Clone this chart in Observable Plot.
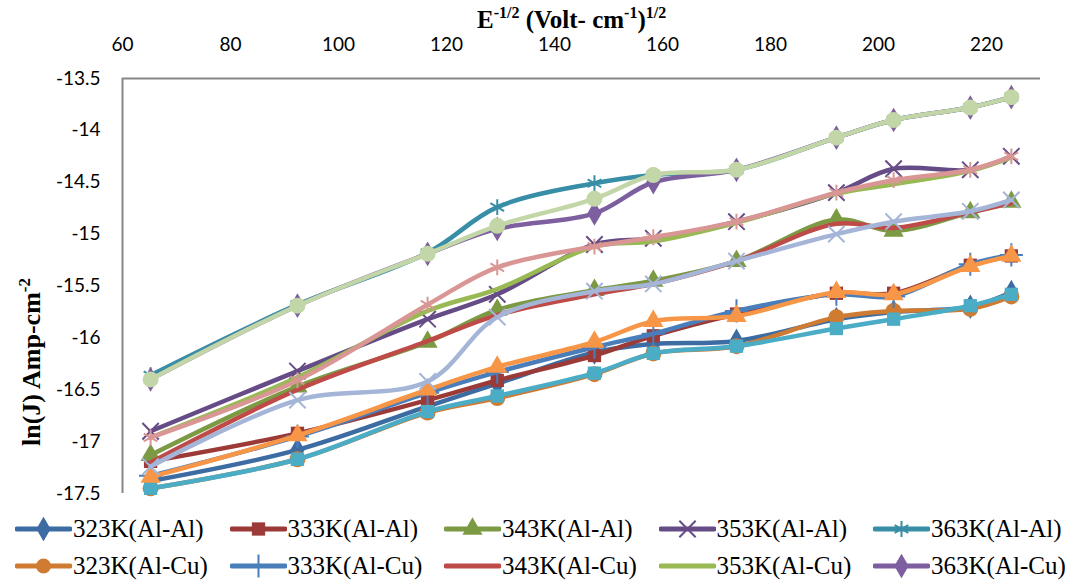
<!DOCTYPE html>
<html><head><meta charset="utf-8">
<script src="https://cdn.jsdelivr.net/npm/d3@7"></script>
<script src="https://cdn.jsdelivr.net/npm/@observablehq/plot@0.6"></script>
<style>
body{margin:0;background:#fff;}
#chart{position:relative;width:1076px;height:580px;overflow:hidden;}
.legend{display:grid;grid-template-columns:repeat(5,214.5px);grid-auto-rows:37px;margin-left:15px;margin-top:5px;color:#000;}
.item{display:flex;align-items:center;white-space:nowrap;line-height:1;}
.item svg{margin-right:1px;flex:none;}
.item span{font-family:'Liberation Serif','Times New Roman',serif;font-size:25px;line-height:1;}
</style></head><body><div id="chart"></div>
<script>
// x positions (E^-1/2)
const xValues = [65.2, 92.4, 116.5, 129.4, 147.4, 158.3, 173.7, 192.2, 202.8, 217.0, 224.6];
const xTicks = [60, 80, 100, 120, 140, 160, 180, 200, 220];
const yTicks = [-13.5, -14, -14.5, -15, -15.5, -16, -16.5, -17, -17.5];

const seriesNames = ["323K(Al-Al)","333K(Al-Al)","343K(Al-Al)","353K(Al-Al)","363K(Al-Al)",
  "323K(Al-Cu)","333K(Al-Cu)","343K(Al-Cu)","353K(Al-Cu)","363K(Al-Cu)",
  "Series11","Series12","Series13","Series14","Series15"];
const legendCount = 10;

const s1  = [-17.38, -17.08, -16.66, -16.44, -16.14, -16.06, -16.03, -15.82, -15.75, -15.70, -15.56];
const s2  = [-17.19, -16.92, -16.60, -16.41, -16.17, -15.98, -15.77, -15.57, -15.57, -15.30, -15.21];
const s3  = [-17.13, -16.47, -16.04, -15.73, -15.54, -15.45, -15.26, -14.86, -14.97, -14.79, -14.69];
const s4  = [-16.90, -16.32, -15.82, -15.58, -15.10, -15.04, -14.88, -14.60, -14.37, -14.38, -14.25];
const s5  = [-16.36, -15.68, -15.18, -14.74, -14.51, -14.43, -14.38, -14.07, -13.90, -13.78, -13.68];
const s6  = [-17.45, -17.17, -16.72, -16.58, -16.35, -16.15, -16.08, -15.80, -15.74, -15.72, -15.60];
const s7  = [-17.33, -16.95, -16.53, -16.33, -16.09, -15.96, -15.74, -15.58, -15.60, -15.29, -15.20];
const s8  = [-17.20, -16.50, -16.03, -15.78, -15.58, -15.48, -15.26, -14.90, -14.94, -14.79, -14.70];
const s9  = [-16.96, -16.38, -15.74, -15.53, -15.12, -15.07, -14.89, -14.61, -14.52, -14.39, -14.26];
const s10 = [-16.40, -15.69, -15.19, -14.95, -14.80, -14.50, -14.38, -14.07, -13.90, -13.78, -13.68];
const s11 = [-17.45, -17.17, -16.71, -16.56, -16.34, -16.15, -16.08, -15.91, -15.82, -15.69, -15.58];
const s12 = [-17.34, -16.94, -16.50, -16.28, -16.04, -15.84, -15.79, -15.56, -15.58, -15.31, -15.21];
const s13 = [-17.24, -16.60, -16.42, -15.80, -15.55, -15.48, -15.26, -15.00, -14.88, -14.78, -14.67];
const s14 = [-16.96, -16.41, -15.68, -15.32, -15.12, -15.03, -14.88, -14.60, -14.48, -14.38, -14.25];
const s15 = [-16.40, -15.69, -15.19, -14.92, -14.66, -14.43, -14.38, -14.07, -13.90, -13.78, -13.68];
const seriesValues = [s1,s2,s3,s4,s5,s6,s7,s8,s9,s10,s11,s12,s13,s14,s15];

const colors = ["#3D6CA3","#9C3A37","#7B9A43","#654C86","#378EA6",
  "#CF7B32","#4A7EBB","#BE4B48","#98B954","#7D5FA0",
  "#4BACC6","#F79646","#A5B5D8","#D99694","#C3D6A8"];
const symbols = ["diamond","square","triangle","times","asterisk",
  "circle","plus",null,null,"diamond",
  "square","triangle","times","asterisk","circle"];
const strokeSymbols = new Set(["times","asterisk","plus"]);

const marks = [
  Plot.ruleX([60], {stroke:"#868686", strokeWidth:2}),
  Plot.ruleY([-13.5], {stroke:"#868686", strokeWidth:2})
];
seriesValues.forEach((vals, i) => {
  const data = vals.map((v, j) => ({x: xValues[j], y: v}));
  marks.push(Plot.line(data, {x:"x", y:"y", stroke: colors[i], strokeWidth: 4.5, curve: "catmull-rom"}));
  const sym = symbols[i];
  if (sym) {
    if (strokeSymbols.has(sym)) {
      marks.push(Plot.dot(data, {x:"x", y:"y", symbol: sym, stroke: colors[i], strokeWidth: 2, r: 7.5}));
    } else {
      marks.push(Plot.dot(data, {x:"x", y:"y", symbol: sym, fill: colors[i], stroke: "none", r: sym === "circle" ? 8 : 7.5}));
    }
  }
});

const chart = Plot.plot({
  width: 1076, height: 505,
  marginTop: 78, marginBottom: 12, marginLeft: 122, marginRight: 36,
  x: {domain: [60, 230], axis: "top", ticks: xTicks, tickSize: 0, tickPadding: 28, label: null, tickFormat: d => String(d)},
  y: {domain: [-17.5, -13.5], ticks: yTicks, tickSize: 0, tickPadding: 22, label: null, tickFormat: d => String(d)},
  style: {fontFamily: "Lato, 'Open Sans', sans-serif", fontSize: "19px", color: "#000", background: "#fff"},
  marks
});
document.getElementById("chart").appendChild(chart);

const svg = d3.select(chart);
const serif = "'Liberation Serif','Times New Roman',serif";
const t = svg.append("text").attr("x", 477).attr("y", 28).attr("text-anchor", "start")
  .attr("font-family", serif).attr("font-weight", "bold").attr("font-size", 25).attr("fill", "#000");
t.append("tspan").text("E");
t.append("tspan").attr("font-size", 16).attr("dy", -10).text("-1/2");
t.append("tspan").attr("dy", 10).text(" (Volt- cm");
t.append("tspan").attr("font-size", 16).attr("dy", -10).text("-1");
t.append("tspan").attr("dy", 10).text(")");
t.append("tspan").attr("font-size", 16).attr("dy", -10).text("1/2");

const yl = svg.append("text").attr("transform", "translate(40,362) rotate(-90)")
  .attr("text-anchor", "middle")
  .attr("font-family", serif).attr("font-weight", "bold").attr("font-size", 26).attr("fill", "#000");
yl.append("tspan").text("ln(J) Amp-cm");
yl.append("tspan").attr("font-size", 17).attr("dy", -10).text("-2");

// legend
const legend = d3.select("#chart").append("div").attr("class", "legend");
const symMap = {diamond: d3.symbolDiamond, square: d3.symbolSquare, triangle: d3.symbolTriangle,
  times: d3.symbolTimes, asterisk: d3.symbolAsterisk, circle: d3.symbolCircle, plus: d3.symbolPlus};
for (let i = 0; i < legendCount; i++) {
  const item = legend.append("div").attr("class", "item");
  const sw = item.append("svg").attr("width", 57).attr("height", 24);
  sw.append("line").attr("x1", 2).attr("x2", 55).attr("y1", 12).attr("y2", 12)
    .attr("stroke", colors[i]).attr("stroke-width", 5).attr("stroke-linecap", "round");
  const sym = symbols[i];
  if (sym) {
    const p = d3.symbol(symMap[sym], Math.PI * 56)();
    const path = sw.append("path").attr("d", p).attr("transform", "translate(28.5,12)");
    if (strokeSymbols.has(sym)) path.attr("fill", "none").attr("stroke", colors[i]).attr("stroke-width", 2);
    else path.attr("fill", colors[i]);
  }
  item.append("span").style("font-family", serif).style("font-size", "25px").style("line-height", "1").text(seriesNames[i]);
}
</script></body></html>
